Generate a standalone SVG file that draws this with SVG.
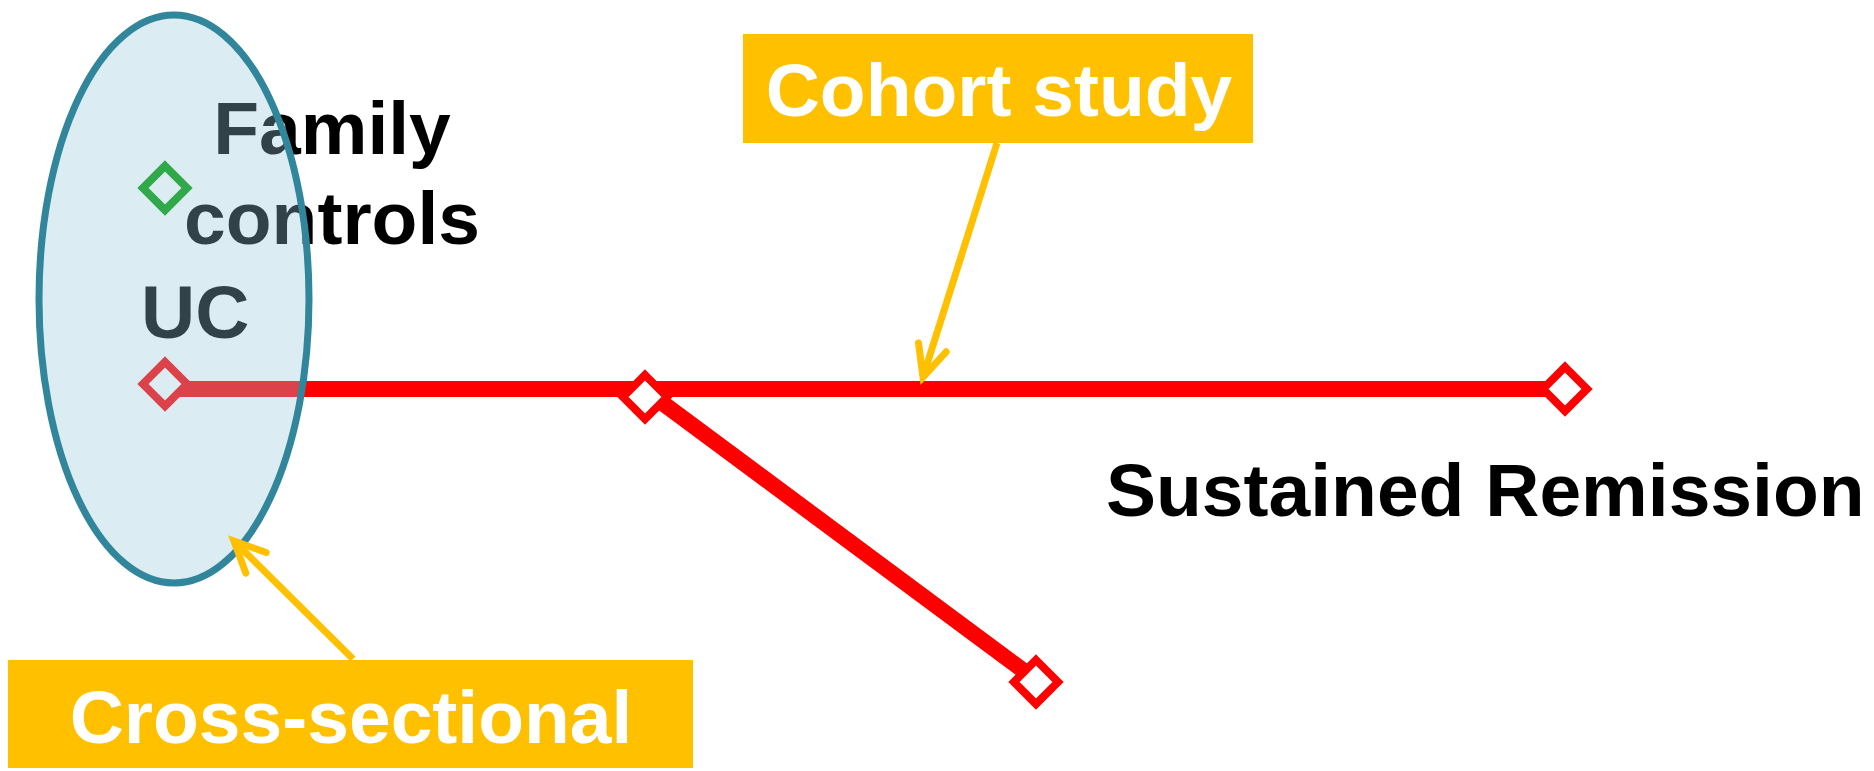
<svg xmlns="http://www.w3.org/2000/svg" width="1874" height="771" viewBox="0 0 1874 771">
  <defs>
    <style>
      .lbl { font-family: "Liberation Sans", Arial, sans-serif; font-weight: bold; font-size: 75px; }
      .dark { fill: #000000; }
      .white { fill: #ffffff; }
      .redline { stroke: #ff0000; stroke-width: 16; fill: none; }
      .dia { stroke-width: 8; fill: #ffffff; }
      .red { stroke: #ff0000; }
      .green { stroke: #009a00; }
      .box { fill: #ffc000; }
      .arrow { stroke: #ffc000; stroke-width: 7; fill: none; stroke-linecap: butt; }
    </style>
    <path id="diamond" d="M0,-22 L22,0 L0,22 L-22,0 Z"/>
    <marker id="chevron" markerUnits="userSpaceOnUse" orient="auto" refX="0" refY="0" markerWidth="50" markerHeight="50" overflow="visible">
      <path d="M-31,-14.5 L0,0 L-31,14.5" fill="none" stroke="#ffc000" stroke-width="7" stroke-linecap="round" stroke-linejoin="miter"/>
    </marker>
  </defs>

  <rect width="1874" height="771" fill="#ffffff"/>

  <g id="connectors">
    <line class="redline" x1="165" y1="389" x2="1566" y2="389"/>
    <line class="redline" x1="645" y1="390" x2="1036" y2="680"/>
  </g>

  <g id="node-family-controls">
    <use href="#diamond" x="165" y="188" class="dia green"/>
    <text class="lbl dark" x="332" y="154" text-anchor="middle">Family</text>
    <text class="lbl dark" x="332" y="244" text-anchor="middle">controls</text>
  </g>

  <g id="node-uc">
    <use href="#diamond" x="165" y="384" class="dia red"/>
    <text class="lbl dark" x="141" y="338">UC</text>
  </g>

  <g id="node-cross-sectional-population">
    <ellipse cx="174" cy="299" rx="135" ry="284" fill="#93c6da" fill-opacity="0.335" stroke="#31869b" stroke-width="7"/>
  </g>

  <g id="node-mid">
    <use href="#diamond" x="645" y="397" class="dia red"/>
  </g>

  <g id="node-sustained-remission">
    <use href="#diamond" x="1565" y="389" class="dia red"/>
    <text class="lbl dark" x="1106" y="516">Sustained Remission</text>
  </g>

  <g id="node-lower">
    <use href="#diamond" x="1036" y="682" class="dia red"/>
  </g>

  <g id="node-cohort-study">
    <rect class="box" x="743" y="34" width="510" height="109"/>
    <text class="lbl white" x="999" y="116" text-anchor="middle">Cohort study</text>
  </g>

  <g id="node-cross-sectional">
    <rect class="box" x="8" y="660" width="685" height="108"/>
    <text class="lbl white" x="351" y="743" text-anchor="middle">Cross-sectional</text>
  </g>

  <g id="annotation-connectors">
    <line class="arrow" x1="997" y1="143" x2="923" y2="377" marker-end="url(#chevron)"/>
    <line class="arrow" x1="353" y1="659" x2="234" y2="541" marker-end="url(#chevron)"/>
  </g>
</svg>
